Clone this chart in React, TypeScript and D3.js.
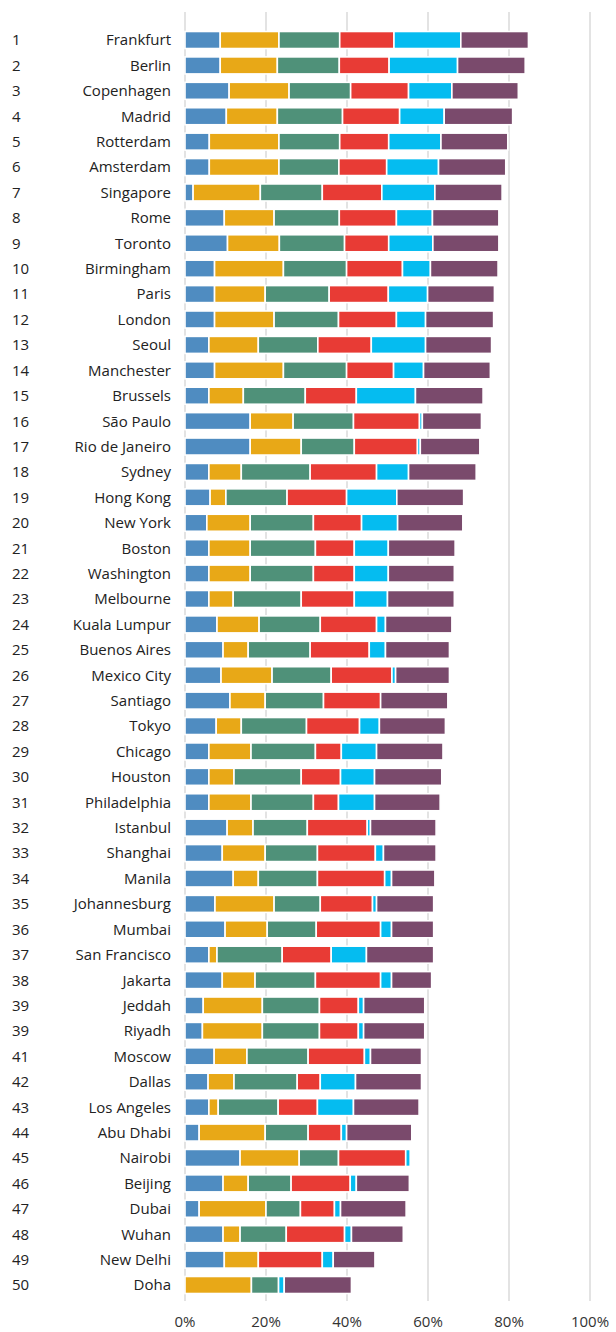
import React from "react"
import * as d3 from "d3"

const width = 616
const height = 1332

const cities = ["Frankfurt", "Berlin", "Copenhagen", "Madrid", "Rotterdam", "Amsterdam", "Singapore", "Rome", "Toronto", "Birmingham",
  "Paris", "London", "Seoul", "Manchester", "Brussels", "São Paulo", "Rio de Janeiro", "Sydney", "Hong Kong", "New York",
  "Boston", "Washington", "Melbourne", "Kuala Lumpur", "Buenos Aires", "Mexico City", "Santiago", "Tokyo", "Chicago", "Houston",
  "Philadelphia", "Istanbul", "Shanghai", "Manila", "Johannesburg", "Mumbai", "San Francisco", "Jakarta", "Jeddah", "Riyadh",
  "Moscow", "Dallas", "Los Angeles", "Abu Dhabi", "Nairobi", "Beijing", "Dubai", "Wuhan", "New Delhi", "Doha"]

const ranks = ["1", "2", "3", "4", "5", "6", "7", "8", "9", "10", "11", "12", "13", "14", "15", "16", "17", "18", "19", "20",
  "21", "22", "23", "24", "25", "26", "27", "28", "29", "30", "31", "32", "33", "34", "35", "36", "37", "38", "39", "39",
  "41", "42", "43", "44", "45", "46", "47", "48", "49", "50"]

const blue = [8.7, 8.7, 10.9, 10.2, 6.0, 6.0, 2.0, 9.7, 10.5, 7.3, 7.3, 7.3, 5.9, 7.3, 5.9, 16.1, 16.1, 5.9, 6.2, 5.4,
  5.9, 5.9, 5.9, 7.9, 9.4, 8.9, 11.1, 7.7, 5.9, 5.9, 5.9, 10.4, 9.2, 11.9, 7.4, 9.9, 5.9, 9.2, 4.5, 4.3,
  7.2, 5.7, 5.9, 3.5, 13.6, 9.4, 3.5, 9.4, 9.7, 0]
const gold = [14.5, 14.1, 14.8, 12.6, 17.2, 17.2, 16.6, 12.3, 12.8, 17.0, 12.5, 14.7, 12.2, 17.0, 8.5, 10.6, 12.6, 8.0, 3.9, 10.7,
  10.2, 10.2, 6.0, 10.4, 6.2, 12.6, 8.7, 6.2, 10.4, 6.2, 10.4, 6.4, 10.6, 6.2, 14.6, 10.4, 2.0, 8.1, 14.6, 14.8,
  8.1, 6.4, 2.3, 16.3, 14.6, 6.2, 16.5, 4.2, 8.4, 16.4]
const green = [15.0, 15.3, 15.2, 16.1, 15.0, 14.8, 15.3, 16.1, 16.1, 15.6, 15.8, 15.9, 14.7, 15.6, 15.3, 14.9, 13.1, 17.0, 15.1, 15.6,
  16.1, 15.6, 16.8, 15.1, 15.3, 14.6, 14.4, 16.1, 15.9, 16.6, 15.4, 13.4, 12.9, 14.6, 11.4, 12.1, 16.1, 14.9, 14.1, 14.1,
  15.1, 15.6, 14.8, 10.6, 9.7, 10.6, 8.5, 11.4, 0, 6.7]
const red = [13.4, 12.3, 14.3, 14.1, 12.1, 11.8, 14.7, 14.1, 10.9, 13.8, 14.6, 14.3, 13.2, 11.6, 12.6, 16.3, 15.6, 16.4, 14.7, 11.9,
  9.6, 10.1, 13.1, 13.9, 14.6, 15.0, 14.1, 13.1, 6.4, 9.7, 6.2, 14.8, 14.3, 16.6, 12.9, 15.9, 12.1, 16.1, 9.6, 9.6,
  13.9, 5.7, 9.7, 8.2, 16.6, 14.6, 8.4, 14.4, 15.8, 0]
const cyan = [16.5, 16.9, 10.7, 11.0, 12.9, 12.8, 13.1, 8.9, 10.9, 6.9, 9.7, 7.2, 13.4, 7.4, 14.6, 0.7, 0.7, 7.9, 12.4, 8.9,
  8.4, 8.4, 8.2, 2.2, 4.0, 0.9, 0, 4.9, 8.7, 8.4, 8.9, 0.8, 2.0, 1.7, 1.0, 2.7, 8.7, 2.7, 1.3, 1.3,
  1.5, 8.7, 8.9, 1.3, 1.1, 1.5, 1.5, 1.7, 2.7, 1.4]
const purple = [16.7, 16.7, 16.4, 16.9, 16.5, 16.6, 16.6, 16.4, 16.3, 16.7, 16.5, 16.8, 16.3, 16.5, 16.7, 14.6, 14.7, 16.7, 16.5, 16.1,
  16.5, 16.3, 16.5, 16.4, 15.8, 13.3, 16.6, 16.3, 16.4, 16.6, 16.2, 16.2, 13.0, 10.7, 14.1, 10.4, 16.6, 9.9, 15.1, 15.1,
  12.6, 16.3, 16.2, 16.1, 0, 13.1, 16.2, 12.8, 10.3, 16.6]

const keys = ["blue", "gold", "green", "red", "cyan", "purple"]
const colors = ["#4f8cc1", "#e8a817", "#4f9179", "#e83b35", "#05bcf0", "#7a4a6c"]
const xTicks = [0, 20, 40, 60, 80, 100]

const rows = cities.map((c, i) => ({
  idx: i, city: c, rank: ranks[i],
  blue: blue[i], gold: gold[i], green: green[i], red: red[i], cyan: cyan[i], purple: purple[i],
}))

const x = d3.scaleLinear().domain([0, 100]).range([185, 590])
const y = d3.scaleBand<number>()
  .domain(rows.map(r => r.idx))
  .range([27.3, 1297.7])
  .paddingInner(0.33)
  .paddingOuter(0.165)

const stacked = d3.stack<any>().keys(keys)(rows)
const font = "'Open Sans', 'Noto Sans', sans-serif"

const App = () => (
  <svg width={width} height={height} style={{ position: "absolute", left: 0, top: 0, background: "#fff" }}>
    {xTicks.map(t => (
      <g key={t}>
        <line x1={x(t)} x2={x(t)} y1={12} y2={1301} stroke="#dcdcdc" strokeWidth={1.6} />
        <text x={x(t)} y={1327} textAnchor="middle" fontFamily={font} fontSize={15} fill="#333">{t}%</text>
      </g>
    ))}
    {stacked.map((layer, k) => (
      <g key={keys[k]} fill={colors[k]}>
        {layer.map((d, i) => d[1] - d[0] > 0 ? (
          <rect key={i}
            x={x(d[0])}
            y={y(i)}
            width={x(d[1]) - x(d[0])}
            height={y.bandwidth()}
            stroke="#fff"
            strokeWidth={1.6}
          />
        ) : null)}
      </g>
    ))}
    {rows.map(r => (
      <g key={r.idx} fontFamily={font} fontSize={15} fill="#222">
        <text x={12} y={(y(r.idx) as number) + y.bandwidth() / 2} dy="0.36em">{r.rank}</text>
        <text x={171} y={(y(r.idx) as number) + y.bandwidth() / 2} dy="0.36em" textAnchor="end">{r.city}</text>
      </g>
    ))}
  </svg>
)

export default App
